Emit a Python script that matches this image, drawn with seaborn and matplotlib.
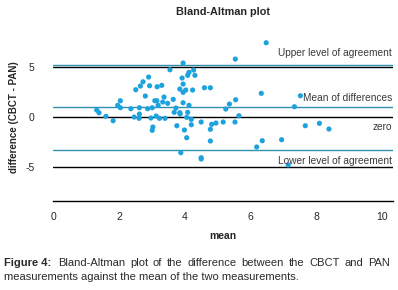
import numpy as np
import pandas as pd
import matplotlib
matplotlib.use('Agg')
import matplotlib.pyplot as plt
import seaborn as sns

# Values
mean_vals = [3.54, 2.89, 2.72, 2.64, 2.92, 2.50, 3.15, 3.29, 2.79, 3.36,
             3.08, 3.14, 3.47, 3.32, 3.64, 2.03, 1.95, 2.03, 3.18, 1.31,
             1.38, 1.59, 1.81, 2.35, 2.61, 2.86, 3.00, 2.61, 2.45, 2.60,
             2.96, 3.12, 3.22, 3.39, 3.02, 3.00, 3.67, 6.47, 5.53, 3.94,
             4.12, 4.26, 4.08, 4.30, 3.91, 3.94, 3.84, 4.02, 3.94, 4.23,
             4.59, 4.77, 6.32, 3.94, 4.12, 5.54, 5.35, 5.24, 3.72, 3.84,
             3.85, 4.08, 5.64, 4.05, 4.19, 4.19, 4.49, 4.81, 4.94, 5.16,
             5.52, 3.75, 3.98, 4.77, 4.05, 4.77, 6.35, 6.18, 3.87, 4.49,
             4.49, 7.51, 7.33, 7.66, 8.09, 8.38, 6.94, 7.14]
diff_vals = [4.76, 4.03, 3.56, 3.13, 3.16, 2.76, 3.06, 3.20, 2.13, 2.03,
             1.66, 1.66, 1.40, 1.53, 1.80, 1.66, 1.20, 0.96, 1.20, 0.73,
             0.46, 0.10, -0.34, 0.86, 0.96, 0.86, 0.96, 0.33, 0.03, -0.10,
             -0.07, 0.13, -0.10, -0.10, -0.97, -1.30, 0.50, 7.46, 5.83, 5.43,
             4.50, 4.73, 4.20, 4.20, 3.93, 3.33, 2.83, 2.73, 2.50, 2.73,
             2.96, 2.96, 2.40, 1.46, 1.20, 1.76, 1.33, 0.83, 0.93, 0.46,
             0.33, 0.50, 0.16, 0.00, -0.20, -0.74, -0.47, -0.70, -0.57, -0.47,
             -0.47, -0.84, -1.27, -1.20, -2.04, -2.37, -2.34, -2.97, -3.54, -4.04,
             -4.17, 2.16, 1.06, -0.84, -0.60, -1.17, -2.24, -4.77]

ref_levels = [5, 0, -5]
agree_levels = [5.23, 1.03, -3.30]
agree_labels = ['Upper level of agreement', 'Mean of differences', 'Lower level of agreement']
zero_label = 'zero'
x_ticks = [0, 2, 4, 6, 8, 10]
y_ticks = [-5, 0, 5]

caption_line1 = 'Bland-Altman plot of the difference between the CBCT and PAN'
caption_line2 = 'measurements against the mean of the two measurements.'

df = pd.DataFrame({'mean': mean_vals, 'diff': diff_vals})

sns.set_style('white')
plt.rcParams['font.family'] = ['Liberation Sans', 'DejaVu Sans']
plt.rcParams['axes.unicode_minus'] = False

fig = plt.figure(figsize=(3.98, 2.90), dpi=100)
ax = fig.add_axes([0.1324, 0.308, 0.855, 0.570])

for lv in ref_levels:
    ax.axhline(lv, color='black', lw=1.0, zorder=1)
for lv in agree_levels:
    ax.axhline(lv, color='#2f8fad', lw=1.0, zorder=1)

sns.scatterplot(data=df, x='mean', y='diff', ax=ax, color='#1ea2de',
                s=14, edgecolor='none', zorder=3, legend=False)

txt = dict(ha='right', fontsize=7.3, color='#3a3a3a')
ax.text(10.3, agree_levels[0] + 0.7, agree_labels[0], va='bottom', **txt)
ax.text(10.3, agree_levels[1] + 0.45, agree_labels[1], va='bottom', **txt)
ax.text(10.3, -0.45, zero_label, va='top', **txt)
ax.text(10.3, agree_levels[2] - 0.55, agree_labels[2], va='top', **txt)

ax.set_xlim(-0.03, 10.33)
ax.set_ylim(-8.34, 8.2)
ax.set_xticks(x_ticks)
ax.set_yticks(y_ticks)
ax.tick_params(axis='x', direction='inout', length=5, width=0.8, pad=6, labelsize=7.5)
ax.tick_params(axis='y', length=0, pad=13, labelsize=7.5)
for side in ['top', 'right', 'left']:
    ax.spines[side].set_visible(False)
ax.spines['bottom'].set_linewidth(1.0)
ax.spines['bottom'].set_color('black')

ax.set_xlabel('mean', fontsize=7.5, fontweight='bold', labelpad=6)
ax.set_ylabel('difference (CBCT - PAN)', fontsize=7.0, fontweight='bold')
ax.yaxis.set_label_coords(-0.10, 0.506)
ax.set_title('Bland-Altman plot', fontsize=7.8, fontweight='bold', pad=15)

# caption: bold label, then a justified first line
cap_y1 = 1 - 263.5 / 290
cap_y2 = 1 - 276.5 / 290
cap_kw = dict(fontsize=8.0, va='center', ha='left', color='#2a2a2a')
fig.text(4 / 398, cap_y1, 'Figure 4:', fontweight='bold', **cap_kw)

renderer = fig.canvas.get_renderer()
words = caption_line1.split()
start_px, end_px = 58.0, 390.0
word_objs = [fig.text(0, cap_y1, w, **cap_kw) for w in words]
widths = [t.get_window_extent(renderer).width for t in word_objs]
gap = (end_px - start_px - sum(widths)) / (len(words) - 1)
pos = start_px
for t, w in zip(word_objs, widths):
    t.set_x(pos / 398)
    pos += w + gap

fig.text(4 / 398, cap_y2, caption_line2, **cap_kw)

fig.savefig('out.png', dpi=100)
